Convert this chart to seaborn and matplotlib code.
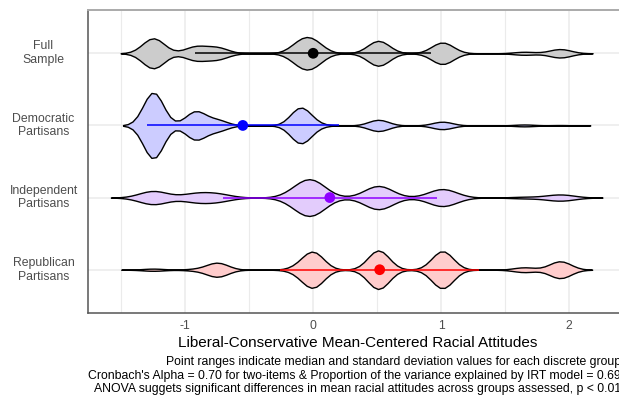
import numpy as np
import pandas as pd
import matplotlib
matplotlib.use("Agg")
import matplotlib.pyplot as plt
import seaborn as sns

# ---------------- data ----------------
groups = ["Full\nSample", "Democratic\nPartisans", "Independent\nPartisans", "Republican\nPartisans"]
support = [-1.25, -0.92, -0.75, -0.10, 0.00, 0.51, 1.01, 1.65, 1.93]
dem_counts = [176, 74, 28, 92, 8, 30, 20, 5, 2]
ind_counts = [17, 10, 9, 18, 34, 30, 22, 2, 8]
rep_counts = [6, 4, 38, 13, 92, 105, 101, 13, 46]
centers = [0.00, -0.55, 0.13, 0.52]
sds = [0.92, 0.75, 0.835, 0.78]
point_colors = ["#000000", "#0000FF", "#8F00FF", "#FF0000"]
fill_colors = ["#CCCCCC", "#CCCCFF", "#E3CCFC", "#FFCCCC"]
x_ticks = [-1, 0, 1, 2]
x_minor = [-1.5, -0.5, 0.5, 1.5]
x_label = "Liberal-Conservative Mean-Centered Racial Attitudes"
caption_lines = [
    "Point ranges indicate median and standard deviation values for each discrete group",
    "Cronbach's Alpha = 0.70 for two-items & Proportion of the variance explained by IRT model = 0.69",
    "ANOVA suggets significant differences in mean racial attitudes across groups assessed, p < 0.01",
]

# ---------------- build long table ----------------
dem = np.repeat(support, dem_counts)
ind = np.repeat(support, ind_counts)
rep = np.repeat(support, rep_counts)
full = np.concatenate([dem, ind, rep])
df = pd.concat([
    pd.DataFrame({"group": groups[0], "score": full}),
    pd.DataFrame({"group": groups[1], "score": dem}),
    pd.DataFrame({"group": groups[2], "score": ind}),
    pd.DataFrame({"group": groups[3], "score": rep}),
], ignore_index=True)

# ---------------- style ----------------
sns.set_style("white")
plt.rcParams["font.family"] = ["Liberation Sans", "DejaVu Sans"]

W, H = 619, 397
fig = plt.figure(figsize=(W / 100, H / 100), dpi=100)
ax_left, ax_right, ax_top, ax_bottom = 88, 626.6, 10, 313
ax = fig.add_axes([ax_left / W, 1 - ax_bottom / H, (ax_right - ax_left) / W, (ax_bottom - ax_top) / H])

sns.violinplot(
    data=df, x="score", y="group", order=groups, color="white",
    orient="h", inner=None,
    density_norm="area", common_norm=False, cut=3, bw_method="scott", bw_adjust=0.36,
    width=0.9, linecolor="black", linewidth=1.0, saturation=1, ax=ax,
)
for coll, fc in zip(ax.collections, fill_colors):
    coll.set_facecolor(fc)

ypos = np.arange(len(groups))
c = np.array(centers)
s = np.array(sds)
ax.hlines(ypos, c - s, c + s, colors=point_colors, linewidth=1.1, zorder=5)
ax.scatter(c, ypos, s=60, c=point_colors, zorder=6, linewidths=0)

ax.set_xlim(-1.76, 2.45)
ax.set_ylim(3.6, -0.6)
ax.set_xticks(x_ticks)
ax.set_xticklabels([f"{t}" for t in x_ticks])
ax.set_xticks(x_minor, minor=True)
ax.set_yticks(ypos)
ax.set_yticklabels(groups, ha="center", va="center", multialignment="center")
ax.set_ylabel("")
ax.set_xlabel(x_label, fontsize=11, color="black", labelpad=3)

ax.set_axisbelow(True)
ax.grid(which="major", axis="both", color="#EBEBEB", linewidth=1.1)
ax.grid(which="minor", axis="x", color="#EBEBEB", linewidth=0.8)
ax.tick_params(axis="both", which="major", length=3, width=1.0, color="#333333",
               labelcolor="#4D4D4D", labelsize=8.8)
ax.tick_params(axis="x", which="major", pad=2)
ax.tick_params(axis="y", which="major", pad=29)
ax.tick_params(which="minor", length=0)

for side in ["left", "bottom"]:
    ax.spines[side].set_color("#555555")
    ax.spines[side].set_linewidth(1.1)
ax.spines["top"].set_color("#AAAAAA")
ax.spines["top"].set_linewidth(1.4)
ax.spines["right"].set_visible(False)

for line, yy in zip(caption_lines, [362, 375.5, 389]):
    fig.text(621 / W, 1 - yy / H, line, ha="right", va="center", fontsize=8.8, color="black")

fig.savefig("out.png", dpi=100)
